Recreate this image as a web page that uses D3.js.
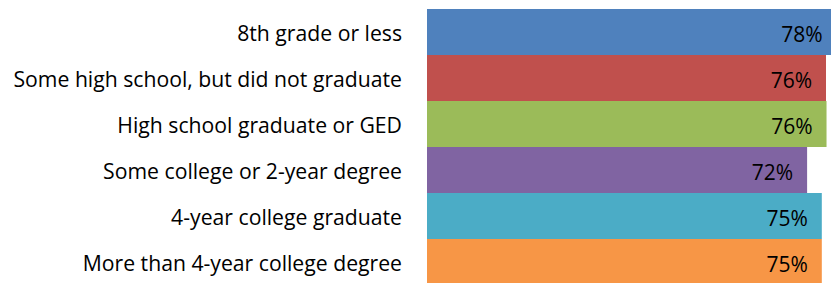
<!DOCTYPE html>
<html>
<head>
<meta charset="utf-8">
<script src="https://cdn.jsdelivr.net/npm/d3@7/dist/d3.min.js"></script>
<style>
html,body{margin:0;padding:0;background:#fff;overflow:hidden;}
svg{display:block;}
</style>
</head>
<body>
<svg id="chart" width="831" height="283"></svg>
<script>
const categories = [
  "8th grade or less",
  "Some high school, but did not graduate",
  "High school graduate or GED",
  "Some college or 2-year degree",
  "4-year college graduate",
  "More than 4-year college degree"
];
const values = [78.0, 76.0, 76.1, 72.4, 75.2, 75.2];
const colors = ["#4F81BD", "#C0504D", "#9BBB59", "#8064A2", "#4BACC6", "#F79646"];

const svg = d3.select("#chart");
const x = d3.scaleLinear().domain([0, 100]).range([427, 427 + 525]);
const y = d3.scaleBand().domain(categories).range([9, 9 + 6 * 46]).padding(0);
const fmt = v => d3.format(".0f")(v) + "%";

const data = categories.map((c, i) => ({c, v: values[i], col: colors[i]}));

svg.selectAll("rect.bar").data(data).join("rect")
  .attr("class", "bar")
  .attr("x", x(0))
  .attr("y", d => y(d.c))
  .attr("width", d => x(d.v) - x(0))
  .attr("height", y.bandwidth())
  .attr("fill", d => d.col);

svg.selectAll("text.val").data(data).join("text")
  .attr("class", "val")
  .attr("x", d => x(d.v) - 14)
  .attr("y", d => y(d.c) + y.bandwidth() / 2 + 10)
  .attr("text-anchor", "end")
  .attr("font-family", "'Open Sans', sans-serif")
  .attr("font-size", 21)
  .attr("fill", "#000")
  .text(d => fmt(d.v));

const yAxis = d3.axisLeft(y).tickSize(0).tickPadding(0);
const gAxis = svg.append("g").attr("transform", "translate(402,0)").call(yAxis);
gAxis.select(".domain").remove();
gAxis.attr("font-size", null).attr("font-family", null);
gAxis.selectAll("text")
  .style("font-family", "'Open Sans', sans-serif")
  .style("font-size", "21.2px")
  .attr("fill", "#000")
  .attr("dy", null)
  .attr("y", 9);
</script>
</body>
</html>
